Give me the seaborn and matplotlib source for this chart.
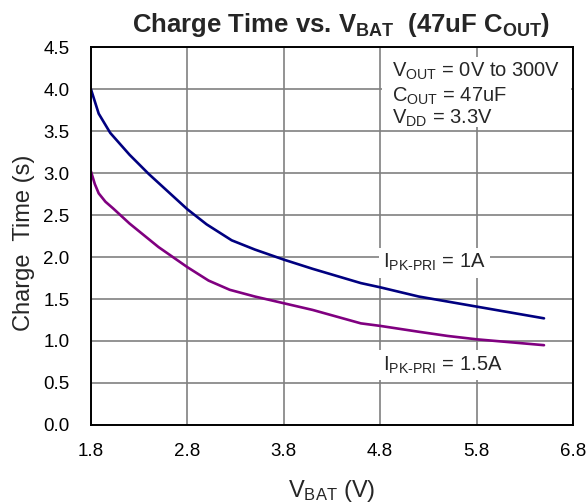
import pandas as pd
import matplotlib
matplotlib.use("Agg")
from matplotlib import pyplot as plt
from matplotlib.patches import Rectangle
import seaborn as sns

sns.set_style("white")
plt.rcParams['font.family'] = ['Liberation Sans', 'DejaVu Sans']
plt.rcParams['mathtext.fontset'] = 'custom'
plt.rcParams['mathtext.rm'] = 'Liberation Sans'
plt.rcParams['mathtext.bf'] = 'Liberation Sans:bold'
plt.rcParams['mathtext.it'] = 'Liberation Sans:italic'

# Data
vbat_1a = [1.8, 1.88, 2.0, 2.2, 2.4, 2.6, 2.8, 3.0, 3.26, 3.5, 3.8, 4.1, 4.6, 4.8, 5.2, 5.5, 5.8, 6.1, 6.5]
time_1a = [4.00, 3.71, 3.48, 3.22, 2.99, 2.78, 2.57, 2.39, 2.20, 2.09, 1.97, 1.86, 1.69, 1.64, 1.53, 1.47, 1.41, 1.35, 1.27]

vbat_15a = [1.8, 1.84, 1.88, 1.95, 2.03, 2.2, 2.5, 2.8, 3.02, 3.24, 3.5, 3.8, 4.1, 4.6, 4.8, 5.2, 5.5, 5.8, 6.1, 6.5]
time_15a = [3.02, 2.87, 2.76, 2.66, 2.58, 2.40, 2.12, 1.88, 1.72, 1.61, 1.53, 1.45, 1.37, 1.21, 1.18, 1.11, 1.06, 1.02, 0.99, 0.95]

x_ticks = [1.8, 2.8, 3.8, 4.8, 5.8, 6.8]
y_ticks = [0.0, 0.5, 1.0, 1.5, 2.0, 2.5, 3.0, 3.5, 4.0, 4.5]

df = pd.concat([
    pd.DataFrame({"vbat": vbat_1a, "time": time_1a, "ipk": "1A"}),
    pd.DataFrame({"vbat": vbat_15a, "time": time_15a, "ipk": "1.5A"}),
])

fig, ax = plt.subplots(figsize=(5.87, 5.04), dpi=100)
fig.subplots_adjust(left=0.155, right=0.976, top=0.906, bottom=0.157)

sns.lineplot(data=df, x="vbat", y="time", hue="ipk", sort=False,
             palette={"1A": "#000080", "1.5A": "#800080"},
             linewidth=1.9, legend=False, ax=ax, zorder=3)

ax.set_xlim(1.8, 6.8)
ax.set_ylim(0, 4.5)
ax.set_xticks(x_ticks)
ax.set_xticklabels([f"{v:.1f}" for v in x_ticks])
ax.set_yticks(y_ticks)
ax.set_yticklabels([f"{v:.1f}" for v in y_ticks])
ax.tick_params(length=0, labelsize=13.5, colors="black")
ax.tick_params(axis="x", pad=13)
ax.tick_params(axis="y", pad=15.5)
ax.grid(True, color="#808080", linewidth=1.2)
for s in ax.spines.values():
    s.set_color("black")
    s.set_linewidth(1.4)
    s.set_zorder(5)

ax.set_xlabel(r"$\mathrm{V_{BAT}}$ (V)", fontsize=17, va="baseline")
ax.xaxis.set_label_coords(0.499, -0.191)
ax.set_ylabel("Charge  Time (s)", fontsize=17, va="center")
ax.yaxis.set_label_coords(-0.139, 0.481)

fig.text(0.581, 1 - 31.7 / 504,
         r"Charge Time vs. $\mathbf{V_{BAT}}$  (47uF $\mathbf{C_{OUT}}$)",
         ha="center", va="baseline", fontsize=18.5, fontweight="bold")

# White background behind the conditions text
ax.add_patch(Rectangle((0.604, 0.788), 0.392, 0.186, transform=ax.transAxes,
                       facecolor="white", edgecolor="none", zorder=4))
cond_lines = [r"$\mathrm{V_{OUT}}$ = 0V to 300V",
              r"$\mathrm{C_{OUT}}$ = 47uF",
              r"$\mathrm{V_{DD}}$ = 3.3V"]
cond_y = [4.150, 3.852, 3.586]
for txt, yy in zip(cond_lines, cond_y):
    ax.text(4.92, yy, txt, ha="left", va="baseline", fontsize=14.5, zorder=6)

# Curve labels
ax.text(4.83, 1.868, r"$\mathrm{I_{PK\text{-}PRI}}$ = 1A", ha="left", va="baseline",
        fontsize=14.5, zorder=6,
        bbox=dict(facecolor="white", edgecolor="none", pad=3))
ax.text(4.83, 0.650, r"$\mathrm{I_{PK\text{-}PRI}}$ = 1.5A", ha="left", va="baseline",
        fontsize=14.5, zorder=6,
        bbox=dict(facecolor="white", edgecolor="none", pad=3))

fig.savefig("out.png", dpi=100)
